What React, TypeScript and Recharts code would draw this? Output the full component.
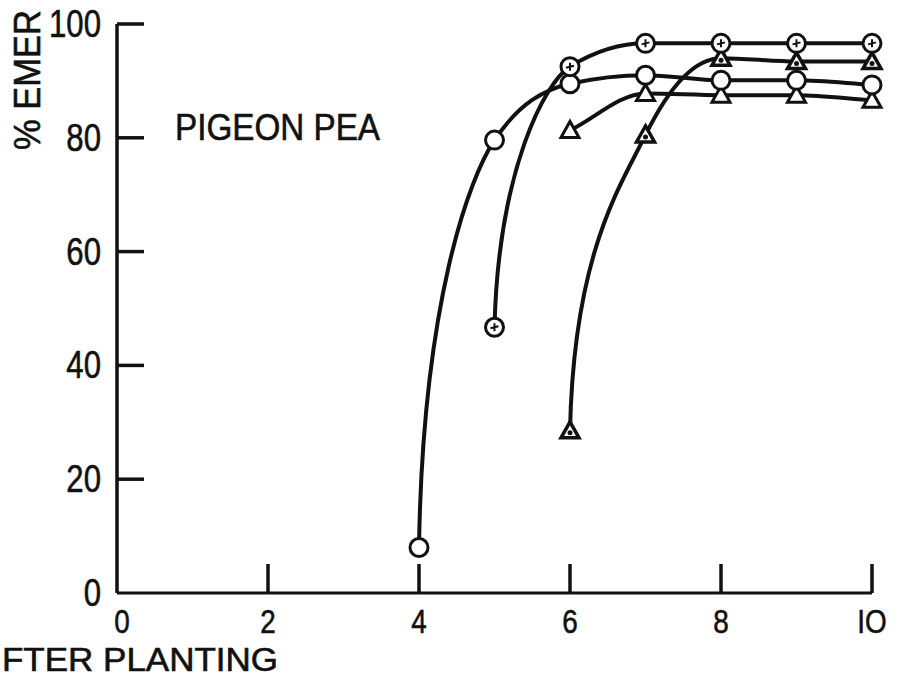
import React from "react";
import { LineChart, Line, XAxis, YAxis } from "recharts";

// days after planting vs % emergence
const xTicks = [0, 2, 4, 6, 8, 10];
const yTicks = [0, 20, 40, 60, 80, 100];

const openDays = [4, 5, 6, 7, 8, 9, 10];
const openPct = [8, 79.6, 89.5, 91, 90.1, 90.1, 89.3];

const dotDays = [5, 6, 7, 8, 9, 10];
const dotPct = [46.7, 92.5, 96.6, 96.6, 96.6, 96.6];

const triDays = [6, 7, 8, 9, 10];
const triPct = [81.3, 87.8, 87.5, 87.5, 86.6];

const steepTriDays = [6, 7, 8, 9, 10];
const steepTriPct = [28.5, 80.5, 94, 93.4, 93.4];

const zip = (xs: number[], ys: number[]) => xs.map((x, i) => ({ x, y: ys[i] }));

const openData = zip(openDays, openPct);
const dotData = zip(dotDays, dotPct);
const triData = zip(triDays, triPct);
const steepTriData = zip(steepTriDays, steepTriPct);

const INK = "#111";
const FONT = "'Liberation Sans', Arial, sans-serif";

// monotone-like curve; optionally leaves the first point almost vertically
const makeCurve = (steepStart: boolean) => (context: any) => {
  let pts: number[][] = [];
  return {
    areaStart() {},
    areaEnd() {},
    lineStart() {
      pts = [];
    },
    point(x: number, y: number) {
      pts.push([+x, +y]);
    },
    lineEnd() {
      const n = pts.length;
      if (!n) return;
      context.moveTo(pts[0][0], pts[0][1]);
      if (n === 1) return;
      const s: number[] = [];
      for (let i = 0; i < n - 1; i++) {
        s.push((pts[i + 1][1] - pts[i][1]) / (pts[i + 1][0] - pts[i][0]));
      }
      const t: number[] = new Array(n).fill(0);
      t[0] = s[0];
      t[n - 1] = s[n - 2];
      for (let i = 1; i < n - 1; i++) {
        const h0 = pts[i][0] - pts[i - 1][0];
        const h1 = pts[i + 1][0] - pts[i][0];
        const s0 = s[i - 1];
        const s1 = s[i];
        const p = (s0 * h1 + s1 * h0) / (h0 + h1);
        t[i] = (Math.sign(s0) + Math.sign(s1)) * Math.min(Math.abs(s0), Math.abs(s1), 0.5 * Math.abs(p)) || 0;
      }
      for (let i = 0; i < n - 1; i++) {
        const [x0, y0] = pts[i];
        const [x1, y1] = pts[i + 1];
        const dx = (x1 - x0) / 3;
        let c1x = x0 + dx;
        let c1y = y0 + dx * t[i];
        if (i === 0 && steepStart) {
          c1x = x0 + dx * 0.15;
          c1y = y0 + (y1 - y0) * 0.6;
        }
        context.bezierCurveTo(c1x, c1y, x1 - dx, y1 - dx * t[i + 1], x1, y1);
      }
    },
  };
};

const steepCurve = makeCurve(true);
const plainCurve = makeCurve(false);

const OpenCircle = (props: any) => {
  const { cx, cy } = props;
  if (cx == null || cy == null) return null;
  return <circle key={`oc-${cx}`} cx={cx} cy={cy} r={9} fill="#fff" stroke={INK} strokeWidth={3} />;
};

const DotCircle = (props: any) => {
  const { cx, cy } = props;
  if (cx == null || cy == null) return null;
  return (
    <g key={`dc-${cx}`}>
      <circle cx={cx} cy={cy} r={9} fill="#fff" stroke={INK} strokeWidth={3} />
      <path d={`M${cx - 4},${cy + 1} L${cx + 4},${cy - 1} M${cx},${cy - 4} L${cx},${cy + 4}`} stroke={INK} strokeWidth={2} />
    </g>
  );
};

const triPath = (cx: number, cy: number) => `M${cx},${cy - 9} L${cx + 9},${cy + 7} L${cx - 9},${cy + 7} Z`;

const OpenTri = (props: any) => {
  const { cx, cy } = props;
  if (cx == null || cy == null) return null;
  return <path key={`ot-${cx}`} d={triPath(cx, cy)} fill="#fff" stroke={INK} strokeWidth={3} />;
};

const DotTri = (props: any) => {
  const { cx, cy } = props;
  if (cx == null || cy == null) return null;
  return (
    <g key={`dt-${cx}`}>
      <path d={triPath(cx, cy)} fill="#fff" stroke={INK} strokeWidth={3.5} />
      <circle cx={cx} cy={cy + 2} r={2.5} fill={INK} />
    </g>
  );
};

// condensed digits, like the old lettering
const Digits = ({ x, y, anchor, size = 38, children }: any) => (
  <g transform={`translate(${x},${y}) scale(0.82,1)`}>
    <text x={0} y={0} textAnchor={anchor} fontFamily={FONT} fontSize={size} fill={INK} stroke={INK} strokeWidth={0.6}>
      {children}
    </text>
  </g>
);

const YTick = (props: any) => {
  const { x, y, payload } = props;
  return (
    <g>
      {payload.value > 0 && <line x1={x} y1={y} x2={x + 27} y2={y} stroke={INK} strokeWidth={3.5} />}
      <Digits x={x - 16} y={y + 13} anchor="end">
        {payload.value}
      </Digits>
    </g>
  );
};

const XTick = (props: any) => {
  const { x, y, payload } = props;
  return (
    <g>
      {payload.value > 0 && <line x1={x} y1={y} x2={x} y2={y - 29} stroke={INK} strokeWidth={3.5} />}
      <Digits x={x + (payload.value === 0 ? 5 : 0)} y={y + 40} anchor="middle" size={34}>
        {payload.value === 10 ? "IO" : payload.value}
      </Digits>
    </g>
  );
};

export default function App() {
  return (
    <div style={{ position: "absolute", left: 0, top: 0, width: 898, height: 680, background: "#fff" }}>
      <LineChart width={898} height={680} margin={{ top: 24, right: 26, left: 116, bottom: 86 }}>
        <XAxis
          type="number"
          dataKey="x"
          domain={[0, 10]}
          ticks={xTicks}
          height={1}
          tickSize={0}
          tickMargin={0}
          tick={<XTick />}
          tickLine={false}
          axisLine={{ stroke: INK, strokeWidth: 3 }}
        />
        <YAxis
          type="number"
          dataKey="y"
          domain={[0, 100]}
          ticks={yTicks}
          width={1}
          tickSize={0}
          tickMargin={0}
          tick={<YTick />}
          tickLine={false}
          axisLine={{ stroke: INK, strokeWidth: 3.5 }}
        />
        <Line data={triData} dataKey="y" type={plainCurve as any} stroke={INK} strokeWidth={4} dot={<OpenTri />} isAnimationActive={false} />
        <Line data={steepTriData} dataKey="y" type={steepCurve as any} stroke={INK} strokeWidth={4} dot={<DotTri />} isAnimationActive={false} />
        <Line data={openData} dataKey="y" type={steepCurve as any} stroke={INK} strokeWidth={4} dot={<OpenCircle />} isAnimationActive={false} />
        <Line data={dotData} dataKey="y" type={steepCurve as any} stroke={INK} strokeWidth={4} dot={<DotCircle />} isAnimationActive={false} />
      </LineChart>
      <svg width={898} height={680} style={{ position: "absolute", left: 0, top: 0, pointerEvents: "none" }}>
        <text x={175} y={140} fontFamily={FONT} fontSize={37} textLength={205} lengthAdjust="spacingAndGlyphs" fill={INK} stroke={INK} strokeWidth={0.6}>
          PIGEON PEA
        </text>
        <text
          x={40}
          y={150}
          transform="rotate(-90 40 150)"
          fontFamily={FONT}
          fontSize={37}
          textLength={140}
          lengthAdjust="spacingAndGlyphs"
          fill={INK}
          stroke={INK}
          strokeWidth={0.6}
        >
          % EMER
        </text>
        <text x={2} y={671} fontFamily={FONT} fontSize={33} textLength={276} lengthAdjust="spacingAndGlyphs" fill={INK} stroke={INK} strokeWidth={0.6}>
          FTER PLANTING
        </text>
      </svg>
    </div>
  );
}
